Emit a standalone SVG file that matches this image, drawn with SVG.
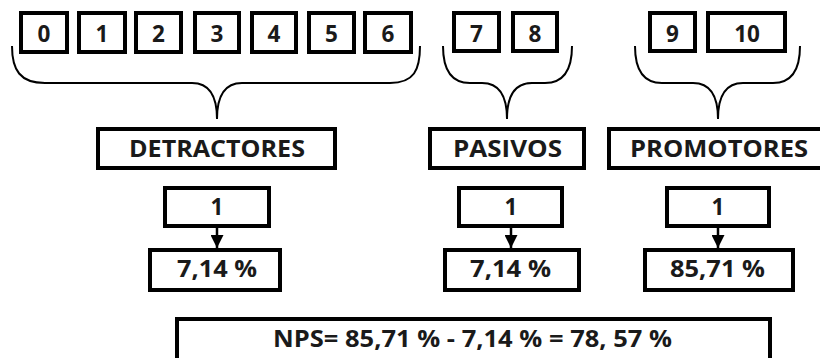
<svg xmlns="http://www.w3.org/2000/svg" width="820" height="358" viewBox="0 0 820 358">
<style>
.box{fill:#fff;stroke:#000;stroke-width:4}
.t{font-family:"Open Sans","Liberation Sans",sans-serif;font-weight:700;font-size:22.5px;fill:#1a1a1a;text-anchor:middle}
.brace{fill:none;stroke:#000;stroke-width:2}
.arr{stroke:#000;stroke-width:2.5}
</style>
<defs>
<marker id="ah" markerWidth="13" markerHeight="13" refX="13" refY="6.5" orient="auto" markerUnits="userSpaceOnUse" viewBox="0 0 13 13">
<path d="M0 0 L13 6.5 L0 13 Z" fill="#000"/>
</marker>
</defs>
<rect width="820" height="358" fill="#fff"/>
<g id="n0"><rect class="box" x="21" y="13" width="46" height="39"/><text class="t" x="44" y="42">0</text></g>
<g id="n1"><rect class="box" x="79" y="13" width="46" height="39"/><text class="t" x="102" y="42">1</text></g>
<g id="n2"><rect class="box" x="136" y="13" width="45" height="39"/><text class="t" x="158.5" y="42">2</text></g>
<g id="n3"><rect class="box" x="195" y="13" width="44" height="39"/><text class="t" x="217" y="42">3</text></g>
<g id="n4"><rect class="box" x="252" y="13" width="44" height="39"/><text class="t" x="274" y="42">4</text></g>
<g id="n5"><rect class="box" x="309" y="13" width="45" height="39"/><text class="t" x="331.5" y="42">5</text></g>
<g id="n6"><rect class="box" x="365" y="13" width="46" height="39"/><text class="t" x="388" y="42">6</text></g>
<g id="n7"><rect class="box" x="454" y="13" width="45" height="38"/><text class="t" x="476.5" y="42">7</text></g>
<g id="n8"><rect class="box" x="513" y="13" width="44" height="38"/><text class="t" x="535" y="42">8</text></g>
<g id="n9"><rect class="box" x="650" y="13" width="45" height="38"/><text class="t" x="672.5" y="42">9</text></g>
<g id="n10"><rect class="box" x="708" y="13" width="77" height="38"/><text class="t" x="747" y="42">10</text></g>

<g id="detractores"><rect class="box" x="98" y="129" width="237" height="39"/><text class="t" x="217" y="157" textLength="176" lengthAdjust="spacingAndGlyphs">DETRACTORES</text></g>
<g id="pasivos"><rect class="box" x="430" y="129" width="154" height="39"/><text class="t" x="507.5" y="157" textLength="109" lengthAdjust="spacingAndGlyphs">PASIVOS</text></g>
<g id="promotores"><rect class="box" x="609" y="129" width="213" height="39"/><text class="t" x="719" y="157" textLength="178" lengthAdjust="spacingAndGlyphs">PROMOTORES</text></g>

<g id="d-count"><rect class="box" x="165" y="188" width="104" height="38"/><text class="t" x="217" y="215">1</text></g>
<g id="p-count"><rect class="box" x="459" y="188" width="103" height="38"/><text class="t" x="511" y="215">1</text></g>
<g id="pr-count"><rect class="box" x="667" y="188" width="102" height="38"/><text class="t" x="718" y="215">1</text></g>

<g id="d-pct"><rect class="box" x="150" y="250" width="130" height="40"/><text class="t" x="217" y="277" textLength="80" lengthAdjust="spacingAndGlyphs">7,14 %</text></g>
<g id="p-pct"><rect class="box" x="445" y="250" width="134" height="40"/><text class="t" x="510.5" y="277" textLength="81" lengthAdjust="spacingAndGlyphs">7,14 %</text></g>
<g id="pr-pct"><rect class="box" x="645" y="250" width="148" height="40"/><text class="t" x="717.5" y="277" textLength="95" lengthAdjust="spacingAndGlyphs">85,71 %</text></g>

<g id="nps"><rect class="box" x="177" y="319" width="593" height="42"/><text class="t" x="472.5" y="347" textLength="399" lengthAdjust="spacingAndGlyphs">NPS= 85,71 % - 7,14 % = 78, 57 %</text></g>

<g id="connectors">
<path class="brace" d="M12 46 C12 70 20 83 45 83 L192 83 C209 83 217 95 217 119 C217 95 225 83 242 83 L390 83 C414 83 420 70 420 46"/>
<path class="brace" d="M443 46 C443 70 451 83 470 83 L482 83 C499 83 507 95 507 119 C507 95 515 83 532 83 L545 83 C564 83 572 70 572 46"/>
<path class="brace" d="M635 46 C635 70 643 83 662 83 L693 83 C710 83 718 95 718 119 C718 95 726 83 743 83 L773 83 C792 83 800 70 800 46"/>
<line class="arr" x1="217" y1="228" x2="217" y2="248" marker-end="url(#ah)"/>
<line class="arr" x1="511" y1="228" x2="511" y2="248" marker-end="url(#ah)"/>
<line class="arr" x1="718" y1="228" x2="718" y2="248" marker-end="url(#ah)"/>
</g>
</svg>
